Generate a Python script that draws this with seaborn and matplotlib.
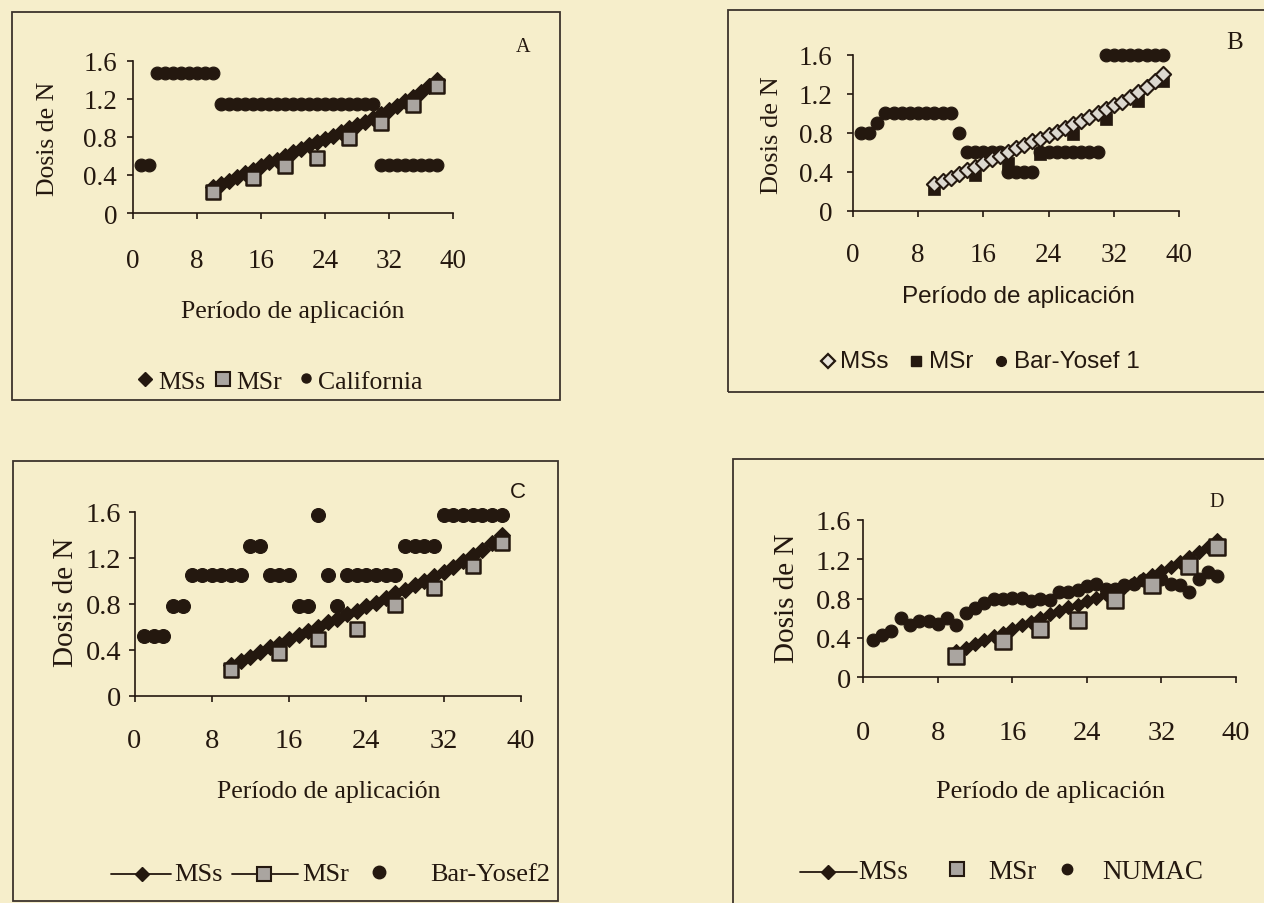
import matplotlib
matplotlib.use("Agg")
import matplotlib.pyplot as plt
from matplotlib.lines import Line2D
from matplotlib.patches import Rectangle
import seaborn as sns

# ---------------------------------------------------------------- data
periodo = [1, 2, 3, 4, 5, 6, 7, 8, 9, 10, 11, 12, 13, 14, 15, 16, 17, 18, 19,
           20, 21, 22, 23, 24, 25, 26, 27, 28, 29, 30, 31, 32, 33, 34, 35, 36, 37, 38]

periodo_mss = [10, 11, 12, 13, 14, 15, 16, 17, 18, 19, 20, 21, 22, 23, 24, 25,
               26, 27, 28, 29, 30, 31, 32, 33, 34, 35, 36, 37, 38]
mss = [0.27, 0.30, 0.34, 0.38, 0.42, 0.45, 0.49, 0.53, 0.56, 0.60, 0.64, 0.67,
       0.71, 0.74, 0.78, 0.81, 0.85, 0.89, 0.92, 0.96, 1.00, 1.04, 1.08, 1.12,
       1.17, 1.22, 1.27, 1.33, 1.40]

periodo_msr = [10, 15, 19, 23, 27, 31, 35, 38]
msr = [0.22, 0.37, 0.49, 0.58, 0.79, 0.94, 1.13, 1.33]

california = [0.50, 0.50, 1.47, 1.47, 1.47, 1.47, 1.47, 1.47, 1.47, 1.47,
              1.14, 1.14, 1.14, 1.14, 1.14, 1.14, 1.14, 1.14, 1.14, 1.14,
              1.14, 1.14, 1.14, 1.14, 1.14, 1.14, 1.14, 1.14, 1.14, 1.14,
              0.50, 0.50, 0.50, 0.50, 0.50, 0.50, 0.50, 0.50]

bar_yosef1 = [0.80, 0.80, 0.90, 1.00, 1.00, 1.00, 1.00, 1.00, 1.00, 1.00,
              1.00, 1.00, 0.80, 0.60, 0.60, 0.60, 0.60, 0.60, 0.40, 0.40,
              0.40, 0.40, 0.60, 0.60, 0.60, 0.60, 0.60, 0.60, 0.60, 0.60,
              1.60, 1.60, 1.60, 1.60, 1.60, 1.60, 1.60, 1.60]

bar_yosef2 = [0.52, 0.52, 0.52, 0.78, 0.78, 1.05, 1.05, 1.05, 1.05, 1.05,
              1.05, 1.30, 1.30, 1.05, 1.05, 1.05, 0.78, 0.78, 1.57, 1.05,
              0.78, 1.05, 1.05, 1.05, 1.05, 1.05, 1.05, 1.30, 1.30, 1.30,
              1.30, 1.57, 1.57, 1.57, 1.57, 1.57, 1.57, 1.57]

numac = [0.38, 0.43, 0.47, 0.60, 0.53, 0.57, 0.57, 0.54, 0.60, 0.53,
         0.65, 0.70, 0.76, 0.80, 0.80, 0.81, 0.81, 0.78, 0.80, 0.79,
         0.87, 0.87, 0.89, 0.93, 0.95, 0.90, 0.90, 0.94, 0.95, 0.99,
         0.99, 1.00, 0.95, 0.94, 0.87, 1.00, 1.07, 1.03]

x_ticks = [0, 8, 16, 24, 32, 40]
y_ticks = [0, 0.4, 0.8, 1.2, 1.6]
y_tick_labels = ["0", "0.4", "0.8", "1.2", "1.6"]
x_label = "Período de aplicación"
y_label = "Dosis de N"

# ---------------------------------------------------------------- style
W, H = 1264, 904
PAPER = "#f6eecb"
INK = "#24180f"
GREY_FILL = "#aaa5a0"
LIGHT_FILL = "#dcd8cf"
SERIF = ["Liberation Serif", "DejaVu Serif"]
SANS = ["Liberation Sans", "DejaVu Sans"]

sns.set_theme(style="white")
plt.rcParams["font.family"] = SERIF
plt.rcParams["text.color"] = INK

fig = plt.figure(figsize=(W / 100, H / 100), dpi=100)
fig.patch.set_facecolor(PAPER)


def fx(x):
    return x / W


def fy(y):
    return 1 - y / H


def frame(x0, y0, x1, y1):
    fig.add_artist(Rectangle((fx(x0), fy(y1)), fx(x1) - fx(x0), fy(y0) - fy(y1),
                             transform=fig.transFigure, fill=False,
                             edgecolor="#3c332c", linewidth=1.3))


def make_axes(l, t, r, b, tick_fs, xpad, ypad, family):
    ax = fig.add_axes([fx(l), fy(b), fx(r) - fx(l), fy(t) - fy(b)])
    ax.set_facecolor("none")
    ax.set_xlim(0, 40)
    ax.set_ylim(0, 1.6)
    ax.set_xticks(x_ticks)
    ax.set_xticklabels([str(t) for t in x_ticks], fontsize=tick_fs, family=family)
    ax.set_yticks(y_ticks)
    ax.set_yticklabels(y_tick_labels, fontsize=tick_fs, family=family)
    for side in ("top", "right"):
        ax.spines[side].set_visible(False)
    for side in ("left", "bottom"):
        ax.spines[side].set_color(INK)
        ax.spines[side].set_linewidth(1.2)
    ax.tick_params(axis="both", direction="out", length=4.5, width=1.2,
                   color=INK, labelcolor=INK)
    ax.tick_params(axis="x", pad=xpad, bottom=True)
    ax.tick_params(axis="y", pad=ypad, left=True)
    ax.set_xlabel("")
    ax.set_ylabel("")
    return ax


def legend_marker(x, y, marker, ms, face, edge, mew=1.0):
    fig.add_artist(Line2D([fx(x)], [fy(y)], transform=fig.transFigure,
                          marker=marker, ms=ms, markerfacecolor=face,
                          markeredgecolor=edge, markeredgewidth=mew,
                          linestyle="none"))


def legend_line(x0, x1, y):
    fig.add_artist(Line2D([fx(x0), fx(x1)], [fy(y), fy(y)], transform=fig.transFigure,
                          color=INK, linewidth=1.3))


def label(x, y, s, fs, family=SERIF, **kw):
    fig.text(fx(x), fy(y), s, fontsize=fs, family=family, color=INK, **kw)


def plot_mss_line(ax, ms):
    sns.lineplot(x=periodo_mss, y=mss, ax=ax, color=INK, linewidth=2.0,
                 marker="D", markersize=ms, markeredgecolor=INK,
                 markerfacecolor=INK, legend=False, clip_on=False, zorder=3)


def plot_msr_grey(ax, s):
    sns.scatterplot(x=periodo_msr, y=msr, ax=ax, marker="s", s=s,
                    color=GREY_FILL, edgecolor=INK, linewidth=1.8,
                    legend=False, clip_on=False, zorder=5)


def plot_dots(ax, values, s):
    sns.scatterplot(x=periodo, y=values, ax=ax, marker="o", s=s, color=INK,
                    edgecolor=INK, linewidth=0.8, legend=False,
                    clip_on=False, zorder=4)


# ---------------------------------------------------------------- panel A
frame(12, 13, 560, 401)
axA = make_axes(133, 61.5, 453, 214, 19.5, 21, 7, SERIF)
plot_mss_line(axA, 8)
plot_msr_grey(axA, 115)
plot_dots(axA, california, 85)
label(523, 48, "A", 14.5, ha="center", va="center")
label(293, 312, x_label, 18.5, ha="center", va="center")
label(48, 139, y_label, 18.5, ha="center", va="center", rotation=90)
yl = 383
legend_marker(145, yl - 3, "D", 7.5, INK, INK)
label(158, yl, "MSs", 18.5, ha="left", va="center")
legend_marker(223, yl - 3, "s", 9.5, GREY_FILL, INK, 1.5)
label(236, yl, "MSr", 18.5, ha="left", va="center")
legend_marker(306, yl - 4, "o", 6.5, INK, INK)
label(318, yl, "California", 18.5, ha="left", va="center")

# ---------------------------------------------------------------- panel B
frame(728, 11, 1275, 393)
axB = make_axes(852.7, 55.7, 1179.3, 211.7, 19.5, 18, 10, SERIF)
plot_dots(axB, bar_yosef1, 85)
sns.scatterplot(x=periodo_msr, y=msr, ax=axB, marker="s", s=65, color=INK,
                edgecolor=INK, linewidth=0.5, legend=False, clip_on=False, zorder=5)
sns.scatterplot(x=periodo_mss, y=mss, ax=axB, marker="D", s=60, color=LIGHT_FILL,
                edgecolor=INK, linewidth=1.5, legend=False, clip_on=False, zorder=6)
label(1235, 43, "B", 18, ha="center", va="center")
label(1018, 297, x_label, 17.5, family=SANS, ha="center", va="center")
label(772, 135, y_label, 19, ha="center", va="center", rotation=90)
yl = 362
legend_marker(828, yl, "D", 7.5, "#e8e4da", INK, 1.6)
label(840, yl, "MSs", 17.5, family=SANS, ha="left", va="center")
legend_marker(916, yl, "s", 7.5, INK, INK)
label(929, yl, "MSr", 17.5, family=SANS, ha="left", va="center")
legend_marker(1001, yl, "o", 7, INK, INK)
label(1014, yl, "Bar-Yosef 1", 17.5, family=SANS, ha="left", va="center")

# ---------------------------------------------------------------- panel C
frame(13, 462, 558, 902)
axC = make_axes(134.5, 512.7, 521, 696.7, 20.5, 19, 5, SERIF)
plot_mss_line(axC, 8)
plot_msr_grey(axC, 115)
plot_dots(axC, bar_yosef2, 100)
label(518, 493, "C", 16, family=SANS, ha="center", va="center")
label(329, 792, x_label, 18.5, ha="center", va="center")
label(66, 602, y_label, 21, ha="center", va="center", rotation=90)
yl = 875
legend_line(111, 171, yl)
legend_marker(142, yl, "D", 7.5, INK, INK)
label(174, yl, "MSs", 19, ha="left", va="center")
legend_line(232, 298, yl)
legend_marker(264, yl, "s", 9.5, GREY_FILL, INK, 1.5)
label(302, yl, "MSr", 19, ha="left", va="center")
legend_marker(379, yl - 2, "o", 9, INK, INK)
label(430, yl, "Bar-Yosef2", 19, ha="left", va="center")

# ---------------------------------------------------------------- panel D
frame(733, 460, 1275, 915)
axD = make_axes(863.3, 521, 1236, 678.3, 20.5, 26, 4, SERIF)
plot_mss_line(axD, 7.5)
plot_msr_grey(axD, 130)
plot_dots(axD, numac, 85)
label(1217, 503, "D", 14.5, ha="center", va="center")
label(1051, 792, x_label, 19, ha="center", va="center")
label(787, 598, y_label, 21, ha="center", va="center", rotation=90)
yl = 873
legend_line(800, 857, yl)
legend_marker(828, yl, "D", 7.5, INK, INK)
label(858, yl, "MSs", 19.5, ha="left", va="center")
legend_marker(957, yl - 3, "s", 9.5, GREY_FILL, INK, 1.5)
label(988, yl, "MSr", 19.5, ha="left", va="center")
legend_marker(1067, yl - 3, "o", 7.5, INK, INK)
label(1102, yl, "NUMAC", 19.5, ha="left", va="center")

fig.savefig("out.png", dpi=100, facecolor=PAPER)
